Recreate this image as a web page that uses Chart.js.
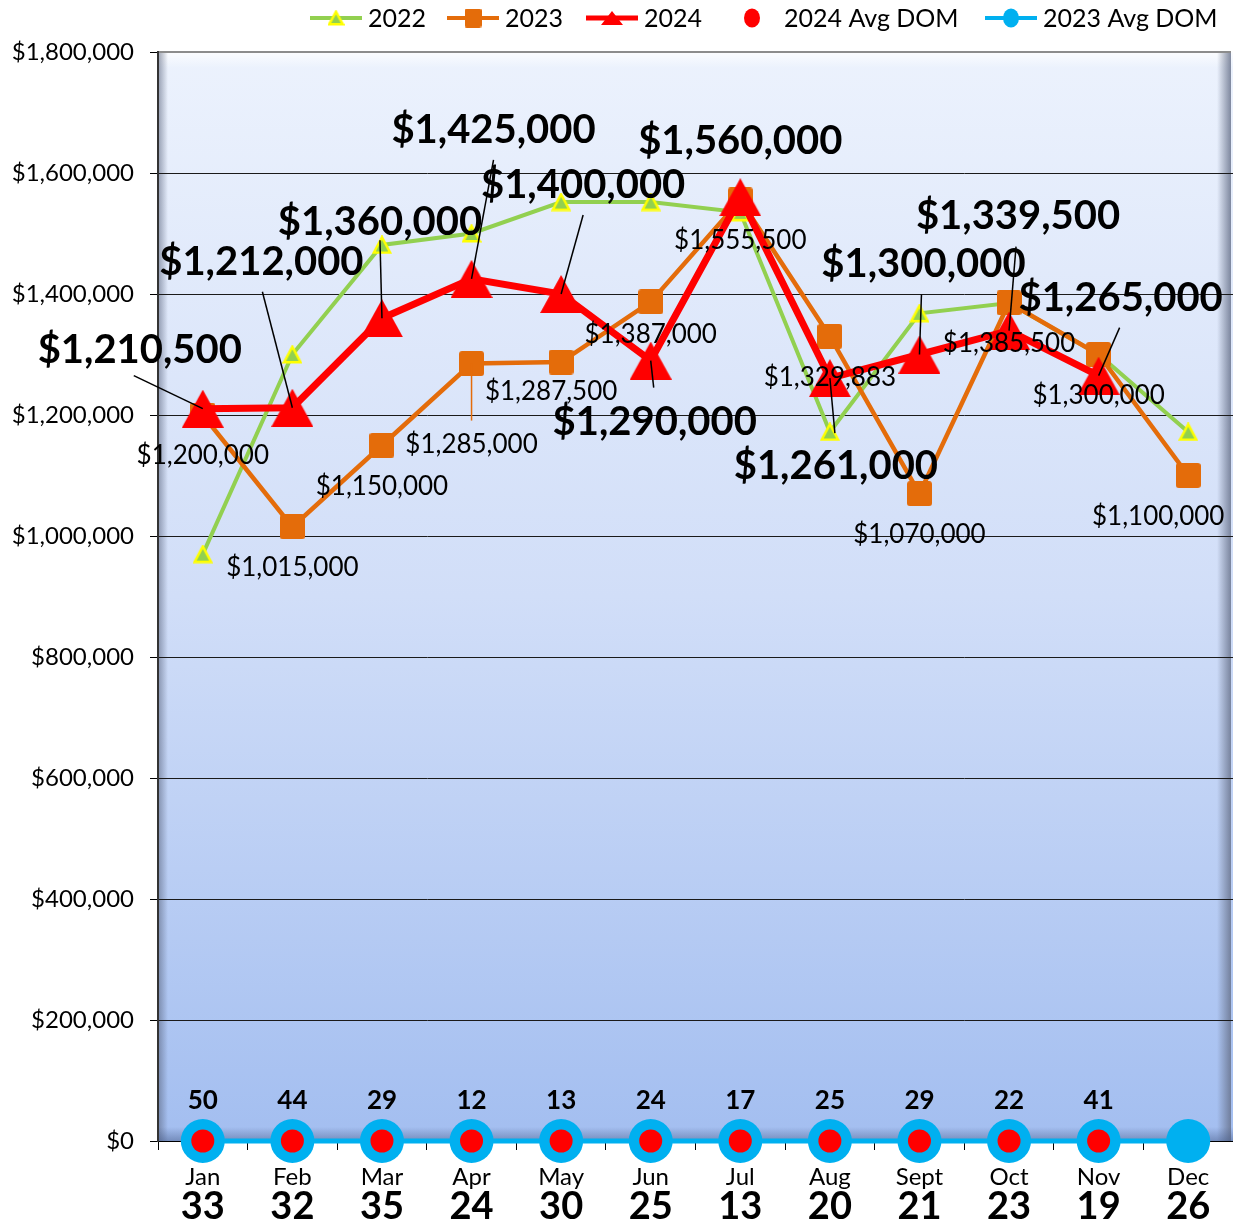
<!DOCTYPE html>
<html>
<head>
<meta charset="utf-8">
<script src="https://cdn.jsdelivr.net/npm/chart.js@4.4.1/dist/chart.umd.min.js"></script>
<style>
  html, body { margin: 0; padding: 0; background: #fff; }
  #wrap { width: 1233px; height: 1224px; position: relative; }
</style>
</head>
<body>
<div id="wrap"><canvas id="chart"></canvas></div>
<script>
// ---- data ----
const months = ['Jan', 'Feb', 'Mar', 'Apr', 'May', 'Jun', 'Jul', 'Aug', 'Sept', 'Oct', 'Nov', 'Dec'];
const price2022 = [970000, 1300000, 1481000, 1500000, 1552000, 1552000, 1535000, 1172000, 1368000, 1385000, 1300000, 1172000];
const price2023 = [1200000, 1015000, 1150000, 1285000, 1287500, 1387000, 1555500, 1329883, 1070000, 1385500, 1300000, 1100000];
const price2024 = [1210500, 1212000, 1360000, 1425000, 1400000, 1290000, 1560000, 1261000, 1300000, 1339500, 1265000, null];
const dom2024 = [50, 44, 29, 12, 13, 24, 17, 25, 29, 22, 41, null];
const dom2023 = [33, 32, 35, 24, 30, 25, 13, 20, 21, 23, 19, 26];
const yTickValues = [0, 200000, 400000, 600000, 800000, 1000000, 1200000, 1400000, 1600000, 1800000];

// label placement (offsets from the point: text dx, dy, optional leader start dx, dy)
const label2024Pos = [
    [-63, -59, -69, -33], [-31, -146, -30, -116], [-2, -96, -2, -78], [22, -149, 22, -119],
    [22, -109, 22, -79], [4, 62, 3, 27], [0, -56], [6, 88, 5, 55],
    [4, -90, 2, -60], [9, -115, 7, -84], [22, -78, 21, -48], null
];
const label2023Pos = [
    [0, 41], [0, 41], [0, 41], [0, 81, 0, 57], [-10, 30], [0, 33],
    [0, 41], [0, 41], [0, 41], [0, 41], [0, 41], [-30, 41]
];
// legend item left edges
const legendX = [310, 447, 586, 726, 985];

const FONT = 'Lato, "Open Sans", "DejaVu Sans", sans-serif';
const colors = {
    green: '#92d050',
    yellow: '#ffff00',
    orange: '#e46c0a',
    red: '#ff0000',
    cyan: '#00b0f0'
};

const money = v => '$' + v.toLocaleString('en-US');

/**
 * Small offscreen canvases used as point styles
 */
function makeMarker(w, h, draw) {
    const c = document.createElement('canvas');
    c.width = w;
    c.height = h;
    draw(c.getContext('2d'), w, h);
    return c;
}

function triangle(fill, stroke, lw) {
    return (ctx, w, h) => {
        const p = lw ? lw / 2 + 0.5 : 0;
        ctx.beginPath();
        ctx.moveTo(w / 2, p);
        ctx.lineTo(w - p, h - p);
        ctx.lineTo(p, h - p);
        ctx.closePath();
        ctx.fillStyle = fill;
        ctx.fill();
        if (stroke) {
            ctx.strokeStyle = stroke;
            ctx.lineWidth = lw;
            ctx.lineJoin = 'miter';
            ctx.stroke();
        }
    };
}

function roundSquare(fill, r) {
    return (ctx, w, h) => {
        ctx.beginPath();
        ctx.roundRect(0, 0, w, h, r);
        ctx.fillStyle = fill;
        ctx.fill();
    };
}

const greenTri = makeMarker(20, 19, triangle(colors.green, colors.yellow, 2.5));
const orangeSq = makeMarker(25, 25, roundSquare(colors.orange, 3));
const redTri = makeMarker(42, 38, triangle(colors.red));

const legendGreen = makeMarker(17, 16, triangle(colors.green, colors.yellow, 2.5));
const legendOrange = makeMarker(17, 19, roundSquare(colors.orange, 2));
const legendRed = makeMarker(22, 14, triangle(colors.red));

// ---- plugins ----
const plotBackground = {
    id: 'plotBackground',
    beforeDraw(chart) {
        const { ctx, chartArea: a } = chart;
        const w = a.right - a.left, h = a.bottom - a.top;
        ctx.save();
        let g = ctx.createLinearGradient(0, a.top, 0, a.bottom);
        g.addColorStop(0, '#ecf2fd');
        g.addColorStop(0.5, '#d1def8');
        g.addColorStop(1, '#a3bef0');
        ctx.fillStyle = g;
        ctx.fillRect(a.left, a.top, w, h);

        // bevel edges
        g = ctx.createLinearGradient(0, a.top, 0, a.top + 16);
        g.addColorStop(0, 'rgba(255,255,255,0.8)');
        g.addColorStop(1, 'rgba(255,255,255,0)');
        ctx.fillStyle = g;
        ctx.fillRect(a.left, a.top, w, 16);

        g = ctx.createLinearGradient(a.left, 0, a.left + 10, 0);
        g.addColorStop(0, 'rgba(80,90,115,0.55)');
        g.addColorStop(1, 'rgba(80,90,115,0)');
        ctx.fillStyle = g;
        ctx.fillRect(a.left, a.top, 10, h);

        g = ctx.createLinearGradient(a.right - 2, 0, a.right - 16, 0);
        g.addColorStop(0, 'rgba(100,110,135,0.8)');
        g.addColorStop(1, 'rgba(100,110,135,0)');
        ctx.fillStyle = g;
        ctx.fillRect(a.right - 16, a.top, 14, h);

        g = ctx.createLinearGradient(0, a.bottom, 0, a.bottom - 14);
        g.addColorStop(0, 'rgba(60,80,125,0.45)');
        g.addColorStop(1, 'rgba(60,80,125,0)');
        ctx.fillStyle = g;
        ctx.fillRect(a.left, a.bottom - 14, w, 14);

        ctx.strokeStyle = '#8c8c8c';
        ctx.lineWidth = 2;
        ctx.beginPath();
        ctx.moveTo(a.left, a.top);
        ctx.lineTo(a.right - 2, a.top);
        ctx.stroke();
        ctx.restore();
    }
};

function drawLabel(ctx, text, px, py, pos, leaderColor) {
    if (!pos) return;
    const [dx, dy, lx, ly] = pos;
    if (lx !== undefined) {
        ctx.strokeStyle = leaderColor;
        ctx.lineWidth = 1.5;
        ctx.beginPath();
        ctx.moveTo(px + lx, py + ly);
        ctx.lineTo(px, py);
        ctx.stroke();
    }
    ctx.fillText(text, px + dx, py + dy);
}

const valueLabels = {
    id: 'valueLabels',
    afterDatasetsDraw(chart) {
        const { ctx, chartArea: a } = chart;
        ctx.save();
        ctx.textAlign = 'center';
        ctx.textBaseline = 'middle';
        ctx.fillStyle = '#000';

        // 2023 values
        ctx.font = '26px ' + FONT;
        chart.getDatasetMeta(1).data.forEach((pt, i) => {
            if (price2023[i] == null) return;
            drawLabel(ctx, money(price2023[i]), pt.x, pt.y, label2023Pos[i], colors.orange);
        });

        // 2024 values
        ctx.font = 'bold 40px ' + FONT;
        chart.getDatasetMeta(2).data.forEach((pt, i) => {
            if (price2024[i] == null) return;
            drawLabel(ctx, money(price2024[i]), pt.x, pt.y, label2024Pos[i], '#000');
        });

        // 2024 Avg DOM above the markers
        ctx.font = 'bold 26px ' + FONT;
        chart.getDatasetMeta(3).data.forEach((pt, i) => {
            if (dom2024[i] == null) return;
            ctx.fillText(String(dom2024[i]), pt.x, pt.y - 40);
        });

        // 2023 Avg DOM under the month names
        ctx.font = 'bold 38px ' + FONT;
        chart.getDatasetMeta(4).data.forEach((pt, i) => {
            if (dom2023[i] == null) return;
            ctx.fillText(String(dom2023[i]), pt.x, a.bottom + 66);
        });
        ctx.restore();
    }
};

const topLegend = {
    id: 'topLegend',
    afterDraw(chart) {
        const { ctx } = chart;
        const cy = 18;
        ctx.save();
        ctx.font = '25px ' + FONT;
        ctx.textBaseline = 'middle';
        ctx.textAlign = 'left';
        chart.data.datasets.forEach((ds, i) => {
            const lg = ds.legend;
            const x = legendX[i];
            const mid = x + 26;
            if (lg.line) {
                ctx.strokeStyle = lg.line;
                ctx.lineWidth = lg.lineWidth;
                ctx.beginPath();
                ctx.moveTo(x, cy);
                ctx.lineTo(x + 52, cy);
                ctx.stroke();
            }
            if (lg.marker) {
                ctx.drawImage(lg.marker, mid - lg.marker.width / 2, cy - lg.marker.height / 2);
            } else if (lg.dot) {
                ctx.fillStyle = lg.dot;
                ctx.beginPath();
                ctx.ellipse(mid, cy, 8, 9.5, 0, 0, Math.PI * 2);
                ctx.fill();
            }
            ctx.fillStyle = '#000';
            ctx.fillText(ds.label, x + 58, cy + 1);
        });
        ctx.restore();
    }
};

// ---- chart ----
function buildChart() {
    const canvas = document.getElementById('chart');
    const atZero = arr => arr.map(v => (v == null ? null : 0));

    return new Chart(canvas.getContext('2d'), {
        type: 'line',
        data: {
            labels: months,
            datasets: [
                {
                    label: '2022',
                    data: price2022,
                    borderColor: colors.green,
                    borderWidth: 4,
                    pointStyle: greenTri,
                    order: 4,
                    legend: { line: colors.green, lineWidth: 4, marker: legendGreen }
                },
                {
                    label: '2023',
                    data: price2023,
                    borderColor: colors.orange,
                    borderWidth: 4.5,
                    pointStyle: orangeSq,
                    order: 3,
                    legend: { line: colors.orange, lineWidth: 4, marker: legendOrange }
                },
                {
                    label: '2024',
                    data: price2024,
                    borderColor: colors.red,
                    borderWidth: 7,
                    pointStyle: redTri,
                    order: 2,
                    legend: { line: colors.red, lineWidth: 5, marker: legendRed }
                },
                {
                    label: '2024 Avg DOM',
                    data: atZero(dom2024),
                    showLine: false,
                    pointStyle: 'circle',
                    pointRadius: 11.5,
                    backgroundColor: colors.red,
                    borderWidth: 0,
                    order: 0,
                    legend: { dot: colors.red }
                },
                {
                    label: '2023 Avg DOM',
                    data: atZero(dom2023),
                    borderColor: colors.cyan,
                    borderWidth: 5,
                    pointStyle: 'circle',
                    pointRadius: 22,
                    backgroundColor: colors.cyan,
                    pointBorderWidth: 0,
                    order: 1,
                    legend: { line: colors.cyan, lineWidth: 4, dot: colors.cyan }
                }
            ]
        },
        options: {
            responsive: true,
            maintainAspectRatio: false,
            animation: false,
            clip: false,
            layout: { autoPadding: false, padding: { top: 52, right: 0, left: 0, bottom: 0 } },
            elements: {
                line: { tension: 0, fill: false },
                point: { radius: 10, hoverRadius: 10, borderWidth: 0 }
            },
            plugins: {
                legend: { display: false },
                tooltip: { enabled: false }
            },
            scales: {
                x: {
                    offset: true,
                    grid: {
                        offset: true,
                        drawOnChartArea: false,
                        tickLength: 9,
                        tickColor: '#000'
                    },
                    border: { display: true, color: '#000', width: 1 },
                    ticks: {
                        color: '#000',
                        padding: 13,
                        maxRotation: 0,
                        autoSkip: false,
                        font: { family: FONT, size: 24 }
                    },
                    afterFit(scale) { scale.height = 83; }
                },
                y: {
                    min: 0,
                    max: 1800000,
                    afterBuildTicks(scale) {
                        scale.ticks = yTickValues.map(v => ({ value: v }));
                    },
                    grid: {
                        color: ctx => (ctx.tick && ctx.tick.value === 1800000 ? 'rgba(0,0,0,0)' : '#1a1a1a'),
                        lineWidth: 1,
                        tickLength: 8,
                        tickColor: '#000'
                    },
                    border: { display: true, color: '#333', width: 2 },
                    ticks: {
                        color: '#000',
                        padding: 16,
                        font: { family: FONT, size: 24 },
                        callback: v => money(v)
                    },
                    afterFit(scale) { scale.width = 158; }
                }
            }
        },
        plugins: [plotBackground, valueLabels, topLegend]
    });
}

Promise.all([
    document.fonts.load('24px Lato'),
    document.fonts.load('bold 40px Lato')
]).catch(() => null).then(buildChart);
</script>
</body>
</html>
